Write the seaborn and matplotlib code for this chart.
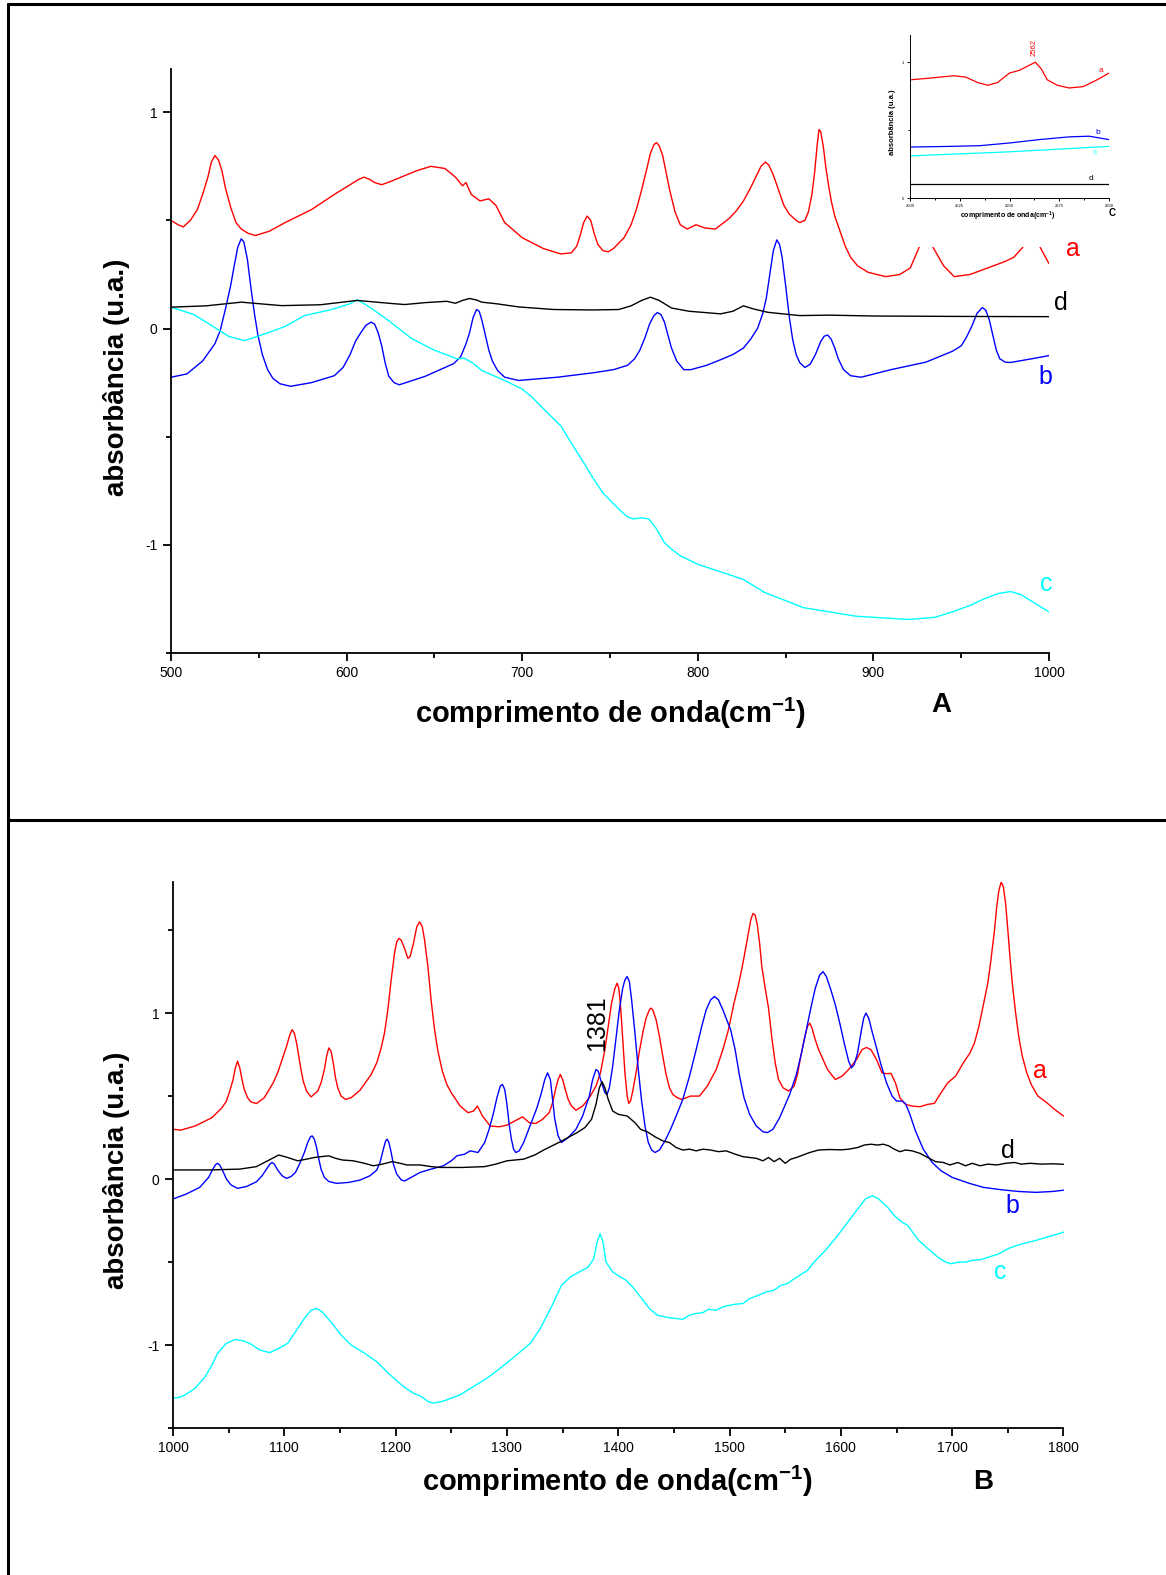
import numpy as np
import pandas as pd
import matplotlib
matplotlib.use("Agg")
import matplotlib.pyplot as plt
import seaborn as sns
from matplotlib.lines import Line2D
from matplotlib.ticker import MultipleLocator

# ---------------- DATA (wavenumber cm-1, absorbance u.a.) ----------------
# Panel A (500-1000 cm-1)
top_a = [(500, 0.50), (504, 0.48), (507, 0.47), (511, 0.50), (515, 0.55), (518, 0.62), (521, 0.70), (523, 0.77),
         (525, 0.80), (527, 0.78), (529, 0.73), (531, 0.65), (534, 0.56), (537, 0.49), (540, 0.46), (544, 0.44),
         (548, 0.43), (556, 0.45), (565, 0.49), (580, 0.55), (593, 0.62), (603, 0.67), (607, 0.69), (610, 0.70),
         (613, 0.69), (616, 0.675), (620, 0.665), (625, 0.68), (631, 0.70), (640, 0.73), (648, 0.75), (656, 0.74),
         (662, 0.70), (666, 0.66), (668, 0.675), (671, 0.62), (676, 0.59), (681, 0.60), (685, 0.57), (690, 0.49),
         (700, 0.42), (712, 0.37), (722, 0.345), (728, 0.35), (731, 0.38), (733, 0.43), (735, 0.49), (737, 0.52),
         (739, 0.50), (741, 0.44), (743, 0.39), (746, 0.36), (749, 0.355), (752, 0.37), (758, 0.42), (762, 0.48),
         (765, 0.55), (768, 0.64), (771, 0.74), (773, 0.81), (775, 0.85), (776.5, 0.86), (778, 0.845), (780, 0.80),
         (782, 0.72), (784, 0.64), (787, 0.54), (790, 0.48), (794, 0.46), (799, 0.48), (804, 0.465), (810, 0.46),
         (818, 0.51), (822, 0.545), (826, 0.59), (830, 0.65), (833, 0.70), (836, 0.75), (838.5, 0.77),
         (840.5, 0.755), (843, 0.71), (846, 0.64), (849, 0.57), (852, 0.53), (856, 0.50), (858, 0.49), (861, 0.50),
         (863, 0.54), (865, 0.62), (866.5, 0.72), (868, 0.85), (869, 0.92), (870, 0.91), (871.5, 0.84), (873, 0.74),
         (874.5, 0.66), (876, 0.59), (878, 0.52), (881, 0.45), (884, 0.38), (887, 0.33), (891, 0.29), (897, 0.26),
         (907, 0.24), (915, 0.25), (921, 0.28), (926, 0.375), (929, 0.55), (931, 0.55), (934, 0.375), (940, 0.29),
         (946, 0.24), (955, 0.25), (965, 0.28), (975, 0.31), (980, 0.33), (985, 0.375), (988, 0.50), (991, 0.50),
         (995, 0.375), (1000, 0.30)]
top_b = [(500, -0.225), (509, -0.21), (518, -0.15), (525, -0.07), (528, -0.01), (531, 0.09), (534, 0.20),
         (536, 0.29), (538, 0.376), (540, 0.415), (541.5, 0.40), (543.5, 0.32), (545.5, 0.19), (547.5, 0.07),
         (549.5, -0.03), (552, -0.12), (555, -0.19), (558, -0.23), (562, -0.255), (568, -0.267), (580, -0.25),
         (593, -0.218), (598, -0.18), (602, -0.12), (605, -0.06), (608, -0.02), (611, 0.015), (614, 0.03),
         (616, 0.02), (618, -0.02), (620, -0.08), (622, -0.16), (624, -0.22), (627, -0.25), (630, -0.26),
         (645, -0.22), (661, -0.162), (665, -0.13), (668, -0.07), (670, -0.02), (672, 0.05), (674, 0.088),
         (675.5, 0.08), (677, 0.04), (679, -0.03), (681, -0.10), (683, -0.15), (686, -0.194), (690, -0.225),
         (698, -0.24), (720, -0.225), (740, -0.205), (752, -0.19), (760, -0.17), (764, -0.14), (767, -0.10),
         (770, -0.04), (772.5, 0.02), (775, 0.06), (777, 0.074), (779, 0.065), (781, 0.03), (783, -0.03),
         (785, -0.09), (788, -0.15), (792, -0.19), (796, -0.19), (805, -0.17), (813, -0.144), (820, -0.12),
         (826, -0.09), (830, -0.05), (834, 0.0), (837, 0.07), (839, 0.14), (841, 0.25), (843, 0.36), (845, 0.41),
         (846.5, 0.39), (848, 0.33), (850, 0.20), (852, 0.06), (854, -0.05), (856, -0.12), (858, -0.157),
         (861, -0.18), (864, -0.165), (867, -0.12), (870, -0.06), (872, -0.035), (874, -0.03), (876, -0.05),
         (878, -0.09), (880, -0.14), (883, -0.19), (887, -0.218), (893, -0.225), (910, -0.19), (930, -0.155),
         (945, -0.105), (950, -0.08), (953, -0.04), (956, 0.01), (959, 0.07), (962, 0.097), (964, 0.085),
         (966, 0.04), (968, -0.03), (970, -0.10), (972, -0.14), (975, -0.155), (978, -0.157), (990, -0.14),
         (1000, -0.125)]
top_c = [(500, 0.099), (513, 0.065), (520, 0.03), (533, -0.037), (542, -0.056), (555, -0.02), (565, 0.01), (576, 0.06),
         (590, 0.085), (596, 0.099), (602, 0.115), (606, 0.133), (611, 0.11), (616, 0.083), (625, 0.03),
         (637, -0.046), (650, -0.10), (663, -0.14), (667, -0.137), (672, -0.16), (677, -0.194), (690, -0.24),
         (700, -0.28), (706, -0.32), (712, -0.37), (717, -0.41), (722, -0.45), (728, -0.53), (735, -0.62),
         (741, -0.70), (746, -0.76), (752, -0.81), (757, -0.85), (760, -0.87), (763, -0.88), (768, -0.875),
         (772, -0.88), (776, -0.92), (781, -0.99), (785, -1.02), (790, -1.05), (800, -1.09), (815, -1.13),
         (826, -1.16), (838, -1.22), (860, -1.29), (890, -1.33), (920, -1.345), (935, -1.335), (945, -1.31),
         (955, -1.28), (963, -1.25), (971, -1.225), (978, -1.216), (984, -1.23), (990, -1.26), (1000, -1.31)]
top_d = [(500, 0.099), (520, 0.105), (540, 0.122), (563, 0.106), (585, 0.11), (606, 0.13), (624, 0.117), (633, 0.111),
         (645, 0.12), (657, 0.126), (662, 0.117), (666, 0.13), (670, 0.139), (674, 0.132), (677, 0.122),
         (685, 0.115), (698, 0.10), (718, 0.088), (740, 0.086), (755, 0.088), (762, 0.105), (768, 0.13),
         (773, 0.145), (778, 0.13), (785, 0.095), (795, 0.08), (813, 0.068), (820, 0.08), (826, 0.105),
         (832, 0.09), (840, 0.075), (858, 0.06), (875, 0.062), (900, 0.058), (950, 0.056), (1000, 0.055)]

# Panel B (1000-1800 cm-1)
bot_a = [(1000, 0.30), (1007, 0.295), (1020, 0.32), (1035, 0.37), (1044, 0.43), (1048, 0.47), (1051, 0.53),
         (1054, 0.60), (1056, 0.67), (1058, 0.71), (1060, 0.67), (1062, 0.60), (1064, 0.54), (1067, 0.49),
         (1070, 0.465), (1075, 0.455), (1082, 0.49), (1090, 0.58), (1094, 0.64), (1098, 0.72), (1102, 0.80),
         (1105, 0.87), (1107, 0.90), (1109, 0.88), (1111, 0.82), (1113, 0.74), (1115, 0.66), (1117, 0.59),
         (1120, 0.53), (1124, 0.495), (1130, 0.53), (1133, 0.58), (1136, 0.66), (1138, 0.74), (1140, 0.79),
         (1142, 0.77), (1144, 0.70), (1146, 0.61), (1148, 0.55), (1151, 0.50), (1155, 0.48), (1160, 0.49),
         (1168, 0.535), (1178, 0.63), (1183, 0.70), (1187, 0.79), (1190, 0.88), (1193, 1.02), (1196, 1.20),
         (1199, 1.36), (1201, 1.43), (1203, 1.45), (1205, 1.44), (1208, 1.39), (1211, 1.33), (1213, 1.34),
         (1216, 1.42), (1219, 1.52), (1221.5, 1.55), (1224, 1.52), (1226, 1.44), (1229, 1.28), (1232, 1.07),
         (1235, 0.90), (1238, 0.77), (1242, 0.65), (1246, 0.57), (1250, 0.52), (1258, 0.44), (1265, 0.40),
         (1270, 0.41), (1273.5, 0.44), (1278, 0.38), (1285, 0.32), (1293, 0.315), (1300, 0.325), (1307, 0.35),
         (1314, 0.375), (1320, 0.34), (1326, 0.335), (1332, 0.36), (1338, 0.40), (1341, 0.46), (1344, 0.55),
         (1346, 0.60), (1348, 0.63), (1350, 0.60), (1352, 0.55), (1355, 0.48), (1358, 0.44), (1362, 0.415),
         (1368, 0.44), (1374, 0.49), (1380, 0.56), (1384, 0.64), (1388, 0.78), (1391, 0.92), (1394, 1.06),
         (1397, 1.15), (1399, 1.18), (1400.5, 1.15), (1402, 1.05), (1404, 0.85), (1406, 0.64), (1408, 0.50),
         (1409.5, 0.456), (1411, 0.47), (1413, 0.53), (1416, 0.64), (1419, 0.77), (1422, 0.88), (1425, 0.97),
         (1428, 1.02), (1429.5, 1.03), (1431, 1.02), (1434, 0.96), (1437, 0.86), (1440, 0.74), (1443, 0.63),
         (1446, 0.55), (1449, 0.51), (1453, 0.49), (1457, 0.48), (1465, 0.50), (1473, 0.50), (1480, 0.56),
         (1488, 0.66), (1494, 0.78), (1499, 0.90), (1504, 1.06), (1508, 1.17), (1512, 1.30), (1516, 1.45),
         (1519, 1.56), (1521, 1.60), (1523, 1.59), (1525, 1.53), (1527, 1.42), (1529, 1.28), (1532, 1.15),
         (1535, 1.03), (1538, 0.85), (1541, 0.70), (1544, 0.60), (1548, 0.55), (1553, 0.53), (1558, 0.56),
         (1561, 0.63), (1564, 0.74), (1567, 0.84), (1570, 0.92), (1572, 0.94), (1574, 0.91), (1577, 0.84),
         (1580, 0.78), (1584, 0.72), (1588, 0.66), (1595, 0.60), (1601, 0.62), (1607, 0.66), (1614, 0.72),
         (1619, 0.78), (1623, 0.793), (1627, 0.78), (1632, 0.72), (1637, 0.64), (1641, 0.635), (1645, 0.637),
         (1649, 0.58), (1653, 0.49), (1658, 0.45), (1664, 0.44), (1671, 0.436), (1678, 0.45), (1684, 0.456),
         (1690, 0.52), (1696, 0.58), (1703, 0.62), (1710, 0.70), (1716, 0.76), (1720, 0.82), (1724, 0.92),
         (1728, 1.05), (1732, 1.18), (1735, 1.33), (1738, 1.50), (1740, 1.64), (1742, 1.74), (1744, 1.79),
         (1746, 1.76), (1748, 1.66), (1750, 1.50), (1752, 1.33), (1754, 1.18), (1757, 1.00), (1760, 0.85),
         (1763, 0.74), (1767, 0.64), (1771, 0.57), (1777, 0.50), (1785, 0.46), (1792, 0.42), (1800, 0.38)]
bot_b = [(1000, -0.12), (1012, -0.09), (1024, -0.05), (1032, 0.01), (1035, 0.05), (1038, 0.085), (1040, 0.095),
         (1042, 0.085), (1045, 0.045), (1048, 0.0), (1052, -0.035), (1058, -0.056), (1066, -0.045),
         (1075, -0.016), (1080, 0.02), (1084, 0.06), (1087, 0.09), (1089, 0.10), (1091, 0.09), (1094, 0.055),
         (1098, 0.02), (1102, 0.004), (1106, 0.015), (1110, 0.04), (1114, 0.095), (1118, 0.16), (1121, 0.22),
         (1123.5, 0.255), (1125, 0.26), (1127, 0.24), (1129, 0.19), (1131, 0.12), (1133, 0.06), (1136, 0.01),
         (1140, -0.015), (1147, -0.026), (1158, -0.02), (1168, -0.006), (1177, 0.02), (1183, 0.054), (1186, 0.10),
         (1189, 0.18), (1191, 0.23), (1192.5, 0.24), (1194, 0.22), (1196, 0.16), (1198, 0.09), (1201, 0.03),
         (1205, -0.005), (1208, -0.012), (1214, 0.01), (1222, 0.04), (1232, 0.06), (1243, 0.08), (1250, 0.11),
         (1255, 0.14), (1262, 0.15), (1267, 0.17), (1274, 0.16), (1280, 0.22), (1284, 0.30), (1288, 0.40),
         (1291, 0.49), (1294, 0.56), (1296, 0.57), (1298, 0.54), (1300, 0.45), (1302, 0.33), (1304, 0.24),
         (1306, 0.18), (1308, 0.16), (1311, 0.17), (1315, 0.22), (1323, 0.36), (1327, 0.43), (1331, 0.52),
         (1334, 0.60), (1336.5, 0.64), (1339, 0.60), (1341, 0.48), (1343, 0.36), (1346, 0.26), (1349, 0.22),
         (1355, 0.25), (1362, 0.30), (1368, 0.38), (1374, 0.50), (1377, 0.60), (1380, 0.66), (1382, 0.65),
         (1385, 0.58), (1388, 0.52), (1390, 0.51), (1392, 0.55), (1395, 0.68), (1398, 0.85), (1401, 1.02),
         (1404, 1.15), (1406, 1.20), (1408, 1.22), (1410, 1.19), (1412, 1.08), (1415, 0.88), (1418, 0.66),
         (1421, 0.47), (1424, 0.32), (1427, 0.22), (1430, 0.175), (1433, 0.16), (1437, 0.175), (1442, 0.23),
         (1447, 0.30), (1452, 0.38), (1458, 0.48), (1464, 0.62), (1470, 0.78), (1475, 0.92), (1479, 1.02),
         (1483, 1.08), (1486.5, 1.10), (1490, 1.08), (1494, 1.02), (1498, 0.95), (1501, 0.90), (1505, 0.78),
         (1509, 0.62), (1513, 0.49), (1518, 0.39), (1524, 0.32), (1530, 0.285), (1534, 0.28), (1539, 0.30),
         (1545, 0.37), (1554, 0.51), (1560, 0.63), (1565, 0.77), (1569, 0.90), (1573, 1.03), (1577, 1.15),
         (1581, 1.23), (1584, 1.25), (1587, 1.22), (1591, 1.14), (1595, 1.05), (1599, 0.94), (1603, 0.82),
         (1607, 0.71), (1609.5, 0.67), (1612, 0.69), (1615, 0.76), (1618, 0.88), (1620.5, 0.97), (1622.5, 1.0),
         (1625, 0.97), (1628, 0.89), (1632, 0.79), (1636, 0.69), (1641, 0.58), (1646, 0.50), (1650, 0.47),
         (1655, 0.47), (1658, 0.455), (1662, 0.39), (1667, 0.29), (1674, 0.18), (1682, 0.10), (1690, 0.05),
         (1700, 0.01), (1715, -0.025), (1728, -0.05), (1745, -0.065), (1760, -0.075), (1775, -0.08),
         (1790, -0.075), (1800, -0.067)]
bot_c = [(1000, -1.32), (1006, -1.315), (1011, -1.30), (1020, -1.26), (1029, -1.19), (1035, -1.12), (1040, -1.05),
         (1048, -0.99), (1056, -0.966), (1063, -0.975), (1069, -0.99), (1078, -1.03), (1087, -1.046),
         (1095, -1.02), (1103, -0.99), (1110, -0.92), (1118, -0.84), (1124, -0.79), (1129, -0.78), (1134, -0.80),
         (1143, -0.87), (1151, -0.94), (1160, -1.0), (1170, -1.04), (1183, -1.10), (1192, -1.16), (1200, -1.21),
         (1209, -1.26), (1216, -1.29), (1223, -1.31), (1229, -1.34), (1234, -1.35), (1242, -1.34), (1250, -1.32),
         (1258, -1.30), (1270, -1.25), (1282, -1.20), (1292, -1.15), (1305, -1.08), (1321, -0.99), (1330, -0.90),
         (1340, -0.77), (1349, -0.64), (1357, -0.59), (1365, -0.56), (1373, -0.53), (1378, -0.48), (1381, -0.38),
         (1383.7, -0.33), (1386, -0.37), (1389, -0.50), (1395, -0.56), (1402, -0.59), (1407, -0.61),
         (1413, -0.65), (1420, -0.71), (1428, -0.78), (1435, -0.82), (1445, -0.835), (1452, -0.84),
         (1458, -0.845), (1464, -0.82), (1470, -0.81), (1476, -0.805), (1481, -0.785), (1488, -0.79),
         (1494, -0.77), (1504, -0.755), (1512, -0.75), (1518, -0.72), (1526, -0.70), (1533, -0.68),
         (1540, -0.67), (1546, -0.64), (1552, -0.63), (1556, -0.61), (1563, -0.58), (1570, -0.55), (1576, -0.50),
         (1586, -0.43), (1596, -0.35), (1605, -0.27), (1614, -0.19), (1622, -0.12), (1628.4, -0.10),
         (1634, -0.12), (1642, -0.17), (1648, -0.22), (1653, -0.25), (1660, -0.28), (1670, -0.37), (1680, -0.43),
         (1687, -0.47), (1694, -0.50), (1699, -0.51), (1706, -0.50), (1712, -0.50), (1718, -0.49),
         (1726, -0.485), (1733, -0.47), (1742, -0.45), (1750, -0.42), (1758, -0.40), (1766, -0.385),
         (1775, -0.37), (1785, -0.35), (1793, -0.335), (1800, -0.32)]
bot_d = [(1000, 0.055), (1033, 0.055), (1060, 0.06), (1075, 0.075), (1085, 0.11), (1095, 0.145), (1103, 0.13),
         (1112, 0.11), (1120, 0.12), (1127, 0.13), (1133, 0.135), (1140, 0.14), (1146, 0.125), (1152, 0.115),
         (1162, 0.11), (1172, 0.095), (1180, 0.08), (1188, 0.09), (1197, 0.105), (1204, 0.095), (1210, 0.085),
         (1222, 0.085), (1232, 0.075), (1240, 0.07), (1260, 0.07), (1280, 0.075), (1290, 0.09), (1300, 0.11),
         (1315, 0.12), (1325, 0.145), (1333, 0.175), (1348, 0.225), (1363, 0.28), (1370, 0.31), (1376, 0.36),
         (1380, 0.45), (1383, 0.55), (1385.5, 0.586), (1388, 0.55), (1391, 0.48), (1395, 0.41), (1400, 0.39),
         (1408, 0.38), (1415, 0.34), (1420, 0.30), (1426, 0.285), (1433, 0.255), (1440, 0.23), (1446, 0.22),
         (1452, 0.19), (1458, 0.175), (1464, 0.18), (1470, 0.17), (1476, 0.18), (1483, 0.175), (1490, 0.165),
         (1497, 0.17), (1505, 0.15), (1512, 0.135), (1518, 0.13), (1524, 0.125), (1530, 0.11), (1535, 0.13),
         (1540, 0.105), (1545, 0.125), (1550, 0.095), (1555, 0.12), (1560, 0.13), (1566, 0.145), (1572, 0.16),
         (1580, 0.175), (1590, 0.178), (1600, 0.176), (1607, 0.18), (1615, 0.19), (1621, 0.205), (1627, 0.21),
         (1633, 0.205), (1638, 0.21), (1643, 0.20), (1648, 0.18), (1653, 0.165), (1658, 0.175), (1664, 0.17),
         (1671, 0.155), (1678, 0.13), (1685, 0.105), (1692, 0.10), (1698, 0.085), (1705, 0.10), (1712, 0.08),
         (1718, 0.095), (1725, 0.08), (1732, 0.09), (1740, 0.085), (1748, 0.095), (1756, 0.10), (1762, 0.09),
         (1770, 0.095), (1780, 0.09), (1790, 0.092), (1800, 0.089)]

# Inset C (2500-2600 cm-1)
ins_a = [(2500, 0.87), (2508, 0.88), (2515, 0.89), (2522, 0.90), (2528, 0.89), (2534, 0.85), (2539, 0.83),
         (2544, 0.85), (2550, 0.92), (2555, 0.94), (2559, 0.97), (2563, 1.0), (2566, 0.95), (2569, 0.87),
         (2574, 0.83), (2580, 0.81), (2587, 0.82), (2594, 0.87), (2600, 0.92)]
ins_b = [(2500, 0.375), (2520, 0.38), (2535, 0.385), (2550, 0.405), (2565, 0.43), (2580, 0.45), (2590, 0.455),
         (2600, 0.43)]
ins_c = [(2500, 0.31), (2550, 0.34), (2600, 0.38)]
ins_d = [(2500, 0.10), (2600, 0.10)]

COLORS = {"a": "#FF0000", "b": "#0000FF", "c": "#00FFFF", "d": "#000000"}
XLABEL = "comprimento de onda(cm$^{-1}$)"
YLABEL = "absorbância (u.a.)"

# ---------------- STYLE ----------------
sns.set_style("ticks")
plt.rcParams["font.family"] = ["Liberation Sans", "DejaVu Sans"]
plt.rcParams["axes.unicode_minus"] = False
plt.rcParams["mathtext.fontset"] = "custom"
plt.rcParams["mathtext.rm"] = "Liberation Sans:bold"
plt.rcParams["mathtext.default"] = "rm"
plt.rcParams["text.color"] = "black"
plt.rcParams["axes.labelcolor"] = "black"
plt.rcParams["lines.solid_joinstyle"] = "round"

W, H = 1166, 1575
fig = plt.figure(figsize=(W / 100, H / 100), dpi=100)
fig.patch.set_facecolor("white")


def fx(x):
    return x / W


def fy(y):
    return 1 - y / H


def axes_px(l, t, r, b):
    return fig.add_axes([l / W, 1 - b / H, (r - l) / W, (b - t) / H])


def draw(ax, series, lw):
    frames = []
    for name, pts in series.items():
        arr = np.array(pts, dtype=float)
        frames.append(pd.DataFrame({"wn": arr[:, 0], "abs": arr[:, 1], "curve": name}))
    df = pd.concat(frames, ignore_index=True)
    sns.lineplot(data=df, x="wn", y="abs", hue="curve", palette=COLORS, estimator=None,
                 sort=False, legend=False, ax=ax, linewidth=lw)
    ax.set_xlabel("")
    ax.set_ylabel("")


def style(ax, xlim, ylim, xmaj, xmin, ymaj, ymin, fs, sw, tl):
    ax.set_xlim(*xlim)
    ax.set_ylim(*ylim)
    ax.patch.set_alpha(0)
    for s in ["top", "right"]:
        ax.spines[s].set_visible(False)
    for s in ["left", "bottom"]:
        ax.spines[s].set_linewidth(sw)
        ax.spines[s].set_color("black")
    ax.xaxis.set_major_locator(MultipleLocator(xmaj))
    ax.xaxis.set_minor_locator(MultipleLocator(xmin))
    ax.yaxis.set_major_locator(MultipleLocator(ymaj))
    ax.yaxis.set_minor_locator(MultipleLocator(ymin))
    ax.tick_params(which="major", length=tl, width=sw, labelsize=fs, direction="out",
                   colors="black", pad=tl * 0.6)
    ax.tick_params(which="minor", length=tl * 0.6, width=sw, direction="out", colors="black")


# ---------------- PANEL A ----------------
axA = axes_px(171, 69, 1049, 653)
draw(axA, {"a": top_a, "b": top_b, "c": top_c, "d": top_d}, 1.0)
style(axA, (500, 1000), (-1.5, 1.2), 100, 50, 1, 0.5, 10, 1.3, 6)
for lab, (x, y) in {"a": (1073, 249), "d": (1061, 303), "b": (1045, 377), "c": (1046, 584)}.items():
    fig.text(fx(x), fy(y), lab, color=COLORS[lab], fontsize=18, ha="center", va="center")
fig.text(fx(610), fy(713), XLABEL, fontsize=21, fontweight="bold", ha="center", va="center")
fig.text(fx(116), fy(377), YLABEL, fontsize=20, fontweight="bold", ha="center", va="center", rotation=90)
fig.text(fx(941), fy(705), "A", fontsize=20, fontweight="bold", ha="center", va="center")

# ---------------- PANEL B ----------------
axB = axes_px(173, 882, 1063.5, 1428)
draw(axB, {"a": bot_a, "b": bot_b, "c": bot_c, "d": bot_d}, 1.0)
style(axB, (1000, 1800), (-1.5, 1.79), 100, 50, 1, 0.5, 10, 1.3, 6)
for lab, (x, y) in {"a": (1040, 1071), "d": (1008, 1151), "b": (1012, 1206), "c": (1000, 1272)}.items():
    fig.text(fx(x), fy(y), lab, color=COLORS[lab], fontsize=18, ha="center", va="center")
fig.text(fx(597), fy(1023), "1381", fontsize=18, rotation=90, ha="center", va="center", color="black")
fig.text(fx(617), fy(1481), XLABEL, fontsize=21, fontweight="bold", ha="center", va="center")
fig.text(fx(116), fy(1170), YLABEL, fontsize=20, fontweight="bold", ha="center", va="center", rotation=90)
fig.text(fx(983), fy(1482), "B", fontsize=20, fontweight="bold", ha="center", va="center")

# ---------------- INSET C ----------------
box = axes_px(880, 18, 1135, 247)
box.set_facecolor("white")
box.set_xticks([])
box.set_yticks([])
for s in box.spines.values():
    s.set_visible(False)

axC = axes_px(910, 35, 1109, 198)
draw(axC, {"a": ins_a, "b": ins_b, "c": ins_c, "d": ins_d}, 0.9)
style(axC, (2500, 2600), (0, 1.2), 25, 12.5, 1, 0.5, 3, 0.7, 2.5)
for lab, (x, y) in {"a": (1101, 70), "b": (1098, 133), "c": (1095, 153), "d": (1091, 179)}.items():
    fig.text(fx(x), fy(y), lab, color=COLORS[lab], fontsize=6, ha="center", va="center")
fig.text(fx(1034), fy(48), "2562", color=COLORS["a"], fontsize=5.5, rotation=90, ha="center", va="center")
fig.text(fx(1008), fy(216), XLABEL, fontsize=5, fontweight="bold", ha="center", va="center")
fig.text(fx(893), fy(122), YLABEL, fontsize=5.5, fontweight="bold", ha="center", va="center", rotation=90)
fig.text(fx(1112), fy(213), "C", fontsize=7, fontweight="bold", ha="center", va="center")

# ---------------- FRAME ----------------
frame_kw = dict(transform=fig.transFigure, color="black", linewidth=2.2)
fig.add_artist(Line2D([fx(7.5), 1.0], [fy(4), fy(4)], **frame_kw))
fig.add_artist(Line2D([fx(7.5), fx(7.5)], [fy(4), 0.0], **frame_kw))
fig.add_artist(Line2D([fx(7.5), 1.0], [fy(820), fy(820)], **frame_kw))

fig.savefig("out.png", dpi=100, facecolor="white")
